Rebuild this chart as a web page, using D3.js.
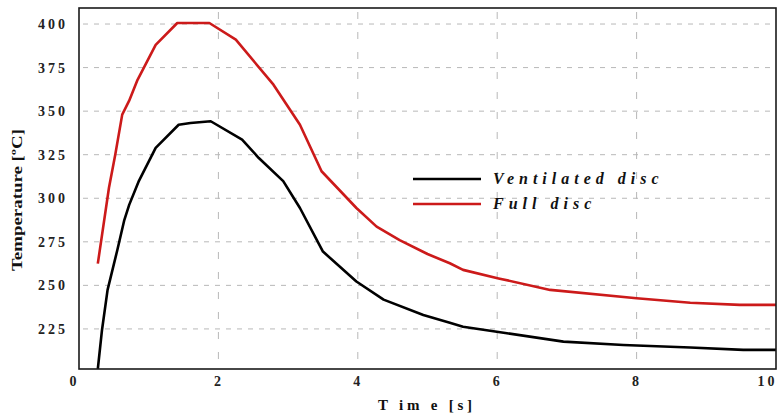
<!DOCTYPE html>
<html>
<head>
<meta charset="utf-8">
<script src="https://cdn.jsdelivr.net/npm/d3@7"></script>
<style>
  body { margin: 0; background: #fff; }
  svg { display: block; }
</style>
</head>
<body>
<svg id="chart"></svg>
<script>
// ---- data ----
const timeVent = [0.27, 0.33, 0.41, 0.55, 0.65, 0.72, 0.86, 1.10, 1.43, 1.60, 1.89, 2.34, 2.58, 2.93, 3.17, 3.50, 3.98, 4.37, 4.94, 5.32, 5.51, 6.14, 6.95, 7.81, 8.77, 9.53, 10];
const tempVent = [202, 224.4, 247.4, 270.3, 287.5, 296.2, 310, 328.9, 342.2, 343.2, 344.2, 333.6, 323.1, 309.8, 294.4, 269.4, 252.2, 241.8, 233, 228.6, 226.3, 222.5, 217.7, 215.8, 214.3, 213, 213];

const timeFull = [0.27, 0.43, 0.52, 0.62, 0.72, 0.84, 1.10, 1.41, 1.87, 2.25, 2.79, 3.17, 3.48, 3.98, 4.27, 4.60, 5.00, 5.32, 5.51, 6.02, 6.76, 8.00, 8.77, 9.48, 10];
const tempFull = [262.5, 306, 325, 348, 356, 368, 388, 400.6, 400.6, 391, 365.2, 342.2, 315.5, 294.4, 283.7, 276, 268, 262.7, 258.9, 254, 247.4, 242.6, 240, 238.8, 238.8];

const yTicks = [225, 250, 275, 300, 325, 350, 375, 400];
const xTicks = [0, 2, 4, 6, 8, 10];
const seriesNames = ['Ventilated disc', 'Full disc'];
const seriesColors = ['#000000', '#cc1a1a'];

const serif = '"Liberation Serif", "Times New Roman", serif';

// ---- layout ----
const W = 781, H = 416;
const plot = { left: 79, right: 776, top: 8, bottom: 369 };
const svg = d3.select('#chart').attr('width', W).attr('height', H);

const x = d3.scaleLinear().domain([0, 10]).range([plot.left, plot.right]);
const y = d3.scaleLinear().domain([202, 409.2]).range([plot.bottom, plot.top]);

// grid
const grid = svg.append('g');
grid.selectAll('line.h').data(yTicks).enter().append('line')
  .attr('x1', plot.left + 4).attr('x2', plot.right - 4)
  .attr('y1', d => y(d)).attr('y2', d => y(d))
  .attr('stroke', '#b8b8b8').attr('stroke-width', 1).attr('stroke-dasharray', '5,6');
grid.selectAll('line.v').data(xTicks.slice(1, -1)).enter().append('line')
  .attr('x1', d => x(d)).attr('x2', d => x(d))
  .attr('y1', plot.top + 4).attr('y2', plot.bottom)
  .attr('stroke', '#b8b8b8').attr('stroke-width', 1).attr('stroke-dasharray', '7,13');

// lines
const line = d3.line().x(d => x(d[0])).y(d => y(d[1]));
const series = [
  d3.zip(timeVent, tempVent),
  d3.zip(timeFull, tempFull)
];
svg.append('defs').append('clipPath').attr('id', 'clip').append('rect')
  .attr('x', plot.left).attr('y', plot.top)
  .attr('width', plot.right - plot.left).attr('height', plot.bottom - plot.top);

series.forEach((s, i) => {
  svg.append('path').datum(s)
    .attr('clip-path', 'url(#clip)')
    .attr('fill', 'none')
    .attr('stroke', seriesColors[i])
    .attr('stroke-width', 2.6)
    .attr('stroke-linejoin', 'round')
    .attr('d', line);
});

// frame
svg.append('rect')
  .attr('x', plot.left).attr('y', plot.top)
  .attr('width', plot.right - plot.left).attr('height', plot.bottom - plot.top)
  .attr('fill', 'none').attr('stroke', '#1a1a1a').attr('stroke-width', 1.6);

// axes
function styleTicks(g) {
  g.select('.domain').remove();
  g.selectAll('.tick text')
    .style('font-family', serif).style('font-weight', 'bold')
    .style('font-size', '14px').style('letter-spacing', '3px').style('fill', '#222');
}
const yAxis = svg.append('g').attr('transform', `translate(${plot.left},0)`)
  .call(d3.axisLeft(y).tickValues(yTicks).tickSize(0).tickPadding(11))
  .call(styleTicks);

const xAxis = svg.append('g').attr('transform', `translate(0,${plot.bottom})`)
  .call(d3.axisBottom(x).tickValues(xTicks).tickSize(0).tickPadding(7))
  .call(styleTicks);
xAxis.selectAll('.tick text').attr('dx', d => d === 0 ? -5 : d === 10 ? -9 : 0);

// axis titles
svg.append('text')
  .attr('transform', 'translate(22,200) rotate(-90)')
  .attr('text-anchor', 'middle')
  .attr('textLength', 142).attr('lengthAdjust', 'spacingAndGlyphs')
  .style('font-family', serif)
  .style('font-weight', 'bold').style('font-size', '15px').style('fill', '#111')
  .text('Temperature [ºC]');

svg.append('text')
  .attr('x', 378).attr('y', 410)
  .attr('textLength', 94)
  .attr('xml:space', 'preserve')
  .style('font-family', serif)
  .style('font-weight', 'bold').style('font-size', '15px').style('fill', '#111')
  .text('T im e [s]');

// legend
const legend = svg.append('g');
seriesNames.forEach((name, i) => {
  const ly = 179 + i * 25;
  legend.append('line')
    .attr('x1', 413).attr('x2', 481).attr('y1', ly).attr('y2', ly)
    .attr('stroke', seriesColors[i]).attr('stroke-width', 2.6);
  legend.append('text')
    .attr('x', 493).attr('y', ly + 5)
    .style('font-family', serif)
    .style('font-weight', 'bold').style('font-style', 'italic')
    .style('font-size', '16px').style('letter-spacing', '5px').style('fill', '#111')
    .text(name);
});
</script>
</body>
</html>
